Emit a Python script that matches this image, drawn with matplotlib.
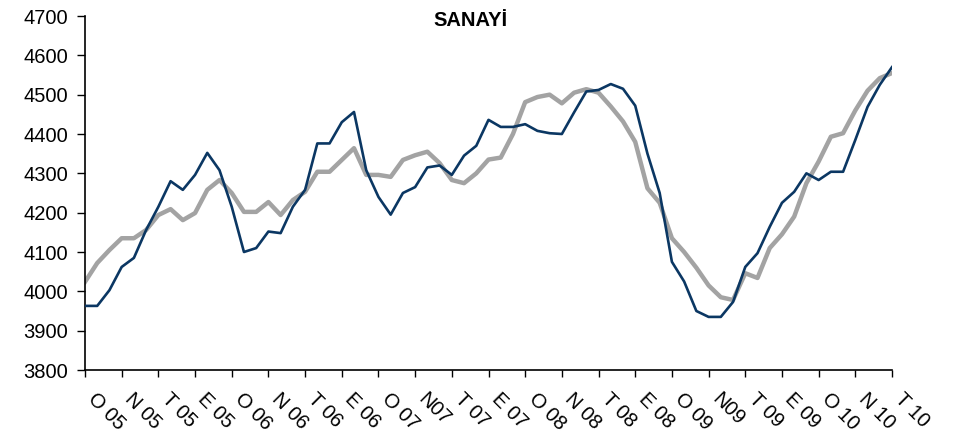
import matplotlib
matplotlib.use("Agg")
import matplotlib.pyplot as plt
import matplotlib.transforms as mtransforms

tick_labels = ["O 05", "N 05", "T 05", "E 05", "O 06", "N 06", "T 06", "E 06",
               "O 07", "N07", "T 07", "E 07", "O 08", "N 08", "T 08", "E 08",
               "O 09", "N09", "T 09", "E 09", "O 10", "N 10", "T 10"]

blue = [3963, 3963, 4003, 4062, 4085, 4156, 4215, 4280, 4258, 4296,
        4352, 4308, 4215, 4100, 4110, 4152, 4148, 4215, 4258, 4376,
        4376, 4430, 4456, 4308, 4240, 4195, 4250, 4265, 4315, 4320,
        4296, 4345, 4370, 4436, 4418, 4418, 4425, 4408, 4402, 4400,
        4455, 4508, 4512, 4527, 4515, 4472, 4350, 4250, 4075, 4025,
        3950, 3935, 3935, 3973, 4062, 4097, 4164, 4225, 4253, 4300,
        4283, 4304, 4304, 4385, 4469, 4525, 4570]

gray = [4024, 4072, 4105, 4135, 4135, 4156, 4194, 4209, 4181, 4199,
        4258, 4283, 4250, 4202, 4202, 4227, 4194, 4232, 4253, 4304,
        4304, 4334, 4364, 4296, 4296, 4291, 4334, 4346, 4355, 4326,
        4283, 4275, 4300, 4335, 4340, 4400, 4481, 4494, 4500, 4478,
        4505, 4514, 4505, 4470, 4432, 4380, 4262, 4225, 4135, 4100,
        4060, 4015, 3985, 3978, 4046, 4034, 4110, 4145, 4190, 4275,
        4330, 4393, 4402, 4460, 4510, 4542, 4555]

plt.rcParams['font.family'] = ['Liberation Sans', 'DejaVu Sans']

fig = plt.figure(figsize=(9.6, 4.43), dpi=100)
ax = fig.add_axes([85/960, 1-370/443, (892-85)/960, (370-16)/443])

x = list(range(len(blue)))
ax.plot(x, gray, color="#a3a3a3", lw=3.2, zorder=2)
ax.plot(x, blue, color="#0b3763", lw=1.9, zorder=3)

ax.set_xlim(0, len(blue) - 1)
ax.set_ylim(3800, 4700)
ax.set_yticks(range(3800, 4701, 100))
ax.set_xticks(range(0, len(blue), 3))
ax.tick_params(axis='y', labelsize=14.5, length=6, width=1, direction='out', pad=6)
ax.tick_params(axis='x', length=5, width=1, direction='out')
ax.set_xticklabels(tick_labels, rotation=-45, ha='left', va='top',
                   rotation_mode='anchor', fontsize=14.5)
offset = mtransforms.ScaledTranslation(13/100, -8/100, fig.dpi_scale_trans)
for lab in ax.get_xticklabels():
    lab.set_transform(lab.get_transform() + offset)
for s in ['top', 'right']:
    ax.spines[s].set_visible(False)
for s in ['left', 'bottom']:
    ax.spines[s].set_linewidth(1.2)

fig.text(470/960, 1-21/443, "SANAYİ", ha='center', va='center',
         fontsize=14.5, fontweight='bold')

fig.savefig("out.png", dpi=100)
